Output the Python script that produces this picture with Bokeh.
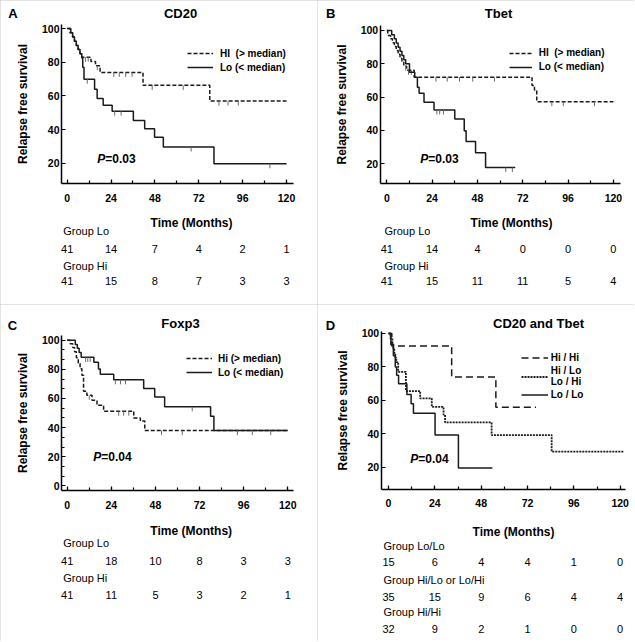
from bokeh.plotting import figure
from bokeh.models import (Label, LabelSet, ColumnDataSource, SingleIntervalTicker,
                          Legend, LegendItem, Range1d)
from bokeh.layouts import row, column
from bokeh.core.properties import value
from bokeh.embed import file_html
from bokeh.resources import INLINE

S = 1.0
FONT = "Liberation Sans"
LINE = "#1a1a1a"
CENS = "#6a6a6a"

risk_times = [0, 24, 48, 72, 96, 120]

# ---------------- Panel A : CD20 ----------------
A_hi_t = [0, 1.5, 3, 4, 5, 6, 7, 8, 13, 15.5, 18, 41.5, 78]
A_hi_s = [100, 97.5, 95, 92.5, 90, 87.5, 85, 83, 80.5, 78, 74, 66.3, 57]
A_hi_end = 120
A_hi_cens = [10, 11.5, 16.5, 25.5, 28.5, 32, 35.5, 46.5, 63.5, 83, 88, 93.6]
A_lo_t = [0, 2, 3, 4, 5, 6, 7, 8, 8.5, 9.2, 15, 16.4, 19.7, 24.6, 36.2, 42.4, 47.8, 52.6, 80.3]
A_lo_s = [100, 97.5, 95, 92.5, 90, 87.5, 85, 82.5, 77, 70, 64, 58.5, 54.5, 51, 45.5, 40.5, 35.5, 29.7, 19.8]
A_lo_end = 120
A_lo_cens = [11, 26, 29.5, 67.8, 110.9]
A_risk_lo = [41, 14, 7, 4, 2, 1]
A_risk_hi = [41, 15, 8, 7, 3, 3]

# ---------------- Panel B : Tbet ----------------
B_hi_t = [0, 0.5, 2, 3, 4, 5, 6, 7, 8, 9, 10.5, 14.5, 76.9, 78.2, 79.4]
B_hi_s = [100, 97, 95, 92.7, 90.4, 88, 85.7, 83.3, 81, 78.6, 76.2, 72, 67, 64.3, 57.3]
B_hi_end = 120
B_hi_cens = [10, 11.5, 13, 26, 32, 38.5, 45.5, 57, 87.4, 93.5, 110]
B_lo_t = [0, 2.6, 4, 5, 6, 7, 8, 9, 10, 12, 14.8, 16.2, 17.1, 19.7, 25, 36, 41, 42, 47, 52.3]
B_lo_s = [100, 97.5, 95, 92.5, 90, 87.5, 85, 82.5, 80, 75, 72, 65.9, 62.3, 57, 52.3, 46.9, 39.8, 33.4, 26.6, 17.8]
B_lo_end = 68
B_lo_cens = [26.5, 28, 30, 63, 66.5]
B_risk_lo = [41, 14, 4, 0, 0, 0]
B_risk_hi = [41, 15, 11, 11, 5, 4]

# ---------------- Panel C : Foxp3 ----------------
C_hi_t = [0, 1.6, 3, 4, 5, 6, 7, 8, 8.9, 10.7, 13.5, 16.2, 19.8, 36.2, 39.8, 42.2]
C_hi_s = [100, 97.5, 95, 92, 88, 84, 80.4, 76, 65, 62.2, 58.8, 55.4, 51.3, 46.7, 44.5, 38]
C_hi_end = 120
C_hi_cens = [12, 28, 30.7, 33.5, 51.3, 62.6]
C_lo_t = [0, 4.4, 5.5, 6.5, 7.6, 14.5, 17, 18, 25.3, 41.6, 47.6, 53, 78, 79.8]
C_lo_s = [100, 97, 94.5, 91.5, 88.2, 84.8, 80.2, 76.7, 72.8, 66.8, 61, 54.3, 47.8, 38]
C_lo_end = 120
C_lo_cens = [10, 11.2, 12.5, 26.2, 29, 31.7, 68, 92.6, 100.7, 110.7]
C_risk_lo = [41, 18, 10, 8, 3, 3]
C_risk_hi = [41, 11, 5, 3, 2, 1]

# ---------------- Panel D : CD20 and Tbet ----------------
D_hh_t = [0, 1.7, 32.7, 55.6]
D_hh_s = [100, 92.5, 74, 56]
D_hh_end = 76.4
D_hl_t = [0, 1, 2, 2.5, 3, 3.5, 4, 5, 9, 16.4, 22.4, 28.5, 29.3, 53.4, 84.5]
D_hl_s = [100, 97, 94, 91, 88.5, 85.7, 82.9, 77.1, 65.6, 61.2, 56.2, 51.5, 46.9, 39.3, 29.4]
D_hl_end = 122
D_ll_t = [0, 1.2, 2.5, 3.5, 4.2, 5.2, 9.5, 11.7, 12.9, 24.1, 36.2]
D_ll_s = [100, 93.3, 86.7, 80, 75, 70, 63.6, 58, 52.4, 39.3, 19.7]
D_ll_end = 53.8
D_risk_ll = [15, 6, 4, 4, 1, 0]
D_risk_mix = [35, 15, 9, 6, 4, 4]
D_risk_hh = [32, 9, 2, 1, 0, 0]

# ---------------- layout geometry (reference px, panel-local) ----------------
GEOM = {
    "A": dict(w=317, h=304, L=61, R=293, T=24, B=183, x0=-3.1, x1=123.8, y0=8.1, y1=102.4),
    "B": dict(w=317, h=304, L=62.7, R=302.7, T=25, B=183.3, x0=-3.5, x1=123.6, y0=8, y1=103),
    "C": dict(w=317, h=337, L=61, R=293, T=30.7, B=186.3, x0=-3.1, x1=123.1, y0=-3.3, y1=103.4),
    "D": dict(w=317, h=337, L=63.7, R=307.7, T=27.3, B=184.7, x0=-3.8, x1=122.6, y0=7, y1=101),
}


def fs(v):
    return f"{v * S:.1f}px"


def px2data(g, px, py):
    dx = g["x0"] + (px - g["L"]) * (g["x1"] - g["x0"]) / (g["R"] - g["L"])
    dy = g["y0"] + (g["B"] - py) * (g["y1"] - g["y0"]) / (g["B"] - g["T"])
    return dx, dy


def level_at(ts, ss, c):
    idx = max(i for i, t in enumerate(ts) if t <= c)
    return ss[idx]


def lab(p, g, px, py, text, size, style="bold", align="center", xoff=0):
    x, y = px2data(g, px, py)
    p.add_layout(Label(x=x, y=y, text=text, text_align=align, text_baseline="middle",
                       text_font=FONT, text_font_size=fs(size), text_font_style=style,
                       text_color="black", x_offset=xoff))


def panel(key, letter, letter_xy, title, title_xy, curves, leg, pval, p_xy,
          time_xy, group_x, rows, y_minor):
    g = GEOM[key]
    W = round(g["w"] * S)
    H = round(g["h"] * S)
    fx0, fy1 = px2data(g, 0, 0)
    fx1, fy0 = px2data(g, W / S, H / S)
    p = figure(width=W, height=H, x_range=Range1d(fx0, fx1),
               y_range=Range1d(fy0, fy1), output_backend="svg",
               toolbar_location=None, title=None, min_border=0,
               outline_line_color=None,
               background_fill_color="white", border_fill_color="white",
               styles={"outline": "1px solid #c6c6c6", "outline-offset": "-1px"})
    p.xgrid.visible = False
    p.ygrid.visible = False
    xa = p.xaxis[0]
    ya = p.yaxis[0]
    xa.fixed_location = g["y0"]
    xa.bounds = (g["x0"], g["x1"])
    ya.fixed_location = g["x0"]
    ya.bounds = (g["y0"], g["y1"])
    xa.ticker = SingleIntervalTicker(interval=24, num_minor_ticks=2)
    ya.ticker = SingleIntervalTicker(interval=20, num_minor_ticks=y_minor)
    for ax in (xa, ya):
        ax.axis_line_color = "black"
        ax.axis_line_width = 1.5
        ax.major_tick_in = 4
        ax.major_tick_out = 0
        ax.minor_tick_in = 3
        ax.minor_tick_out = 0
        ax.major_tick_line_width = 1.2
        ax.minor_tick_line_width = 1.2
        ax.major_tick_line_color = "black"
        ax.minor_tick_line_color = "black"
        ax.major_label_text_font = FONT
        ax.major_label_text_font_size = fs(10.5)
        ax.major_label_text_font_style = "bold"
        ax.major_label_text_color = "black"
    xa.major_label_standoff = 10
    ya.major_label_standoff = 2
    ya.axis_label = "Relapse free survival"
    ya.axis_label_text_font = FONT
    ya.axis_label_text_font_size = fs(12)
    ya.axis_label_text_font_style = "bold"
    ya.axis_label_text_color = "black"
    ya.axis_label_standoff = 9

    ppu = (g["B"] - g["T"]) / (g["y1"] - g["y0"])
    tick = 4.5 / ppu
    items = []
    for c in curves:
        xs = list(c["t"]) + [c["end"]]
        ys = list(c["s"]) + [c["s"][-1]]
        r = p.step(xs, ys, mode="after", line_color=LINE, line_width=c["width"],
                   line_dash=c["dash"])
        items.append(LegendItem(label=c["label"], renderers=[r]))
        if c["cens"]:
            lv = [level_at(c["t"], c["s"], x) for x in c["cens"]]
            p.segment(x0=c["cens"], y0=lv, x1=c["cens"], y1=[v - tick for v in lv],
                      line_color=CENS, line_width=1)

    legend = Legend(items=items,
                    location=((g["L"] + leg["x"]) * S, (g["h"] - g["B"] + leg["y"]) * S),
                    glyph_width=round(leg["gw"] * S), glyph_height=leg["ih"],
                    label_height=leg["ih"], label_standoff=round(leg["st"] * S),
                    spacing=leg["sp"], padding=0, margin=0, border_line_color=None,
                    background_fill_alpha=0, label_text_font=FONT,
                    label_text_font_size=fs(10), label_text_font_style="bold",
                    label_text_color="black", label_text_line_height=1.0)
    p.add_layout(legend)

    lab(p, g, letter_xy[0], letter_xy[1], letter, 13)
    lab(p, g, title_xy[0], title_xy[1], title, 13)
    lab(p, g, p_xy[0], p_xy[1], "P", 12, style="bold italic", align="left")
    lab(p, g, p_xy[0], p_xy[1], pval, 12, style="bold", align="left", xoff=8 * S)
    lab(p, g, time_xy[0], time_xy[1], "Time (Months)", 12)

    for name, y_name, vals, y_vals in rows:
        lab(p, g, group_x, y_name, name, 11, style="normal", align="left")
        _, dy = px2data(g, 0, y_vals)
        src = ColumnDataSource(dict(x=risk_times, y=[dy] * len(vals),
                                    t=[str(v) for v in vals]))
        p.add_layout(LabelSet(x="x", y="y", text="t", source=src,
                              text_align="center", text_baseline="middle",
                              text_font=value(FONT), text_font_size=value(fs(11)),
                              text_color="black"))
    return p


DASH = "4 2"
pA = panel("A", "A", (12.5, 13.3), "CD20", (180, 12.7),
           [dict(t=A_hi_t, s=A_hi_s, end=A_hi_end, cens=A_hi_cens, dash=DASH, width=1.5,
                 label="HI  (> median)"),
            dict(t=A_lo_t, s=A_lo_s, end=A_lo_end, cens=A_lo_cens, dash="solid", width=1.5,
                 label="Lo (< median)")],
           dict(x=126, y=109, gw=26, ih=14, st=7, sp=0),
           "=0.03", (96.7, 158.3), (191, 222.3), 62.7,
           [("Group Lo", 230.7, A_risk_lo, 248.3), ("Group Hi", 265, A_risk_hi, 280.7)], 1)

pB = panel("B", "B", (13.2, 13.3), "Tbet", (181, 12.7),
           [dict(t=B_hi_t, s=B_hi_s, end=B_hi_end, cens=B_hi_cens, dash=DASH, width=1.5,
                 label="HI  (> median)"),
            dict(t=B_lo_t, s=B_lo_s, end=B_lo_end, cens=B_lo_cens, dash="solid", width=1.5,
                 label="Lo (< median)")],
           dict(x=129, y=109.6, gw=23, ih=14, st=7.4, sp=0),
           "=0.03", (102.7, 158.3), (194, 222.3), 67,
           [("Group Lo", 230.7, B_risk_lo, 248.3), ("Group Hi", 265, B_risk_hi, 280.7)], 1)

pC = panel("C", "C", (12, 21), "Foxp3", (180, 19),
           [dict(t=C_hi_t, s=C_hi_s, end=C_hi_end, cens=C_hi_cens, dash=DASH, width=1.5,
                 label="Hi (> median)"),
            dict(t=C_lo_t, s=C_lo_s, end=C_lo_end, cens=C_lo_cens, dash="solid", width=1.5,
                 label="Lo (< median)")],
           dict(x=125, y=111.3, gw=26, ih=14, st=6.3, sp=0),
           "=0.04", (92.7, 152.3), (190.7, 226.7), 62.7,
           [("Group Lo", 238.3, C_risk_lo, 256.3), ("Group Hi", 273.3, C_risk_hi, 290)], 3)

pD = panel("D", "D", (13, 21), "CD20 and Tbet", (221, 19),
           [dict(t=D_hh_t, s=D_hh_s, end=D_hh_end, cens=[], dash="7 4", width=1.5,
                 label="Hi / Hi"),
            dict(t=D_hl_t, s=D_hl_s, end=D_hl_end, cens=[], dash="2 1", width=1.8,
                 label="Hi / Lo\nLo / Hi"),
            dict(t=D_ll_t, s=D_ll_s, end=D_ll_end, cens=[], dash="solid", width=1.5,
                 label="Lo / Lo")],
           dict(x=140, y=87.7, gw=27, ih=13, st=3, sp=1),
           "=0.04", (92.7, 154), (196, 227.7), 66,
           [("Group Lo/Lo", 241, D_risk_ll, 257.7),
            ("Group Hi/Lo or Lo/Hi", 275, D_risk_mix, 292.7),
            ("Group Hi/Hi", 307, D_risk_hh, 324.3)], 1)

layout = column(row(pA, pB), row(pC, pD))
open("out.html", "w").write(file_html(layout, INLINE))
